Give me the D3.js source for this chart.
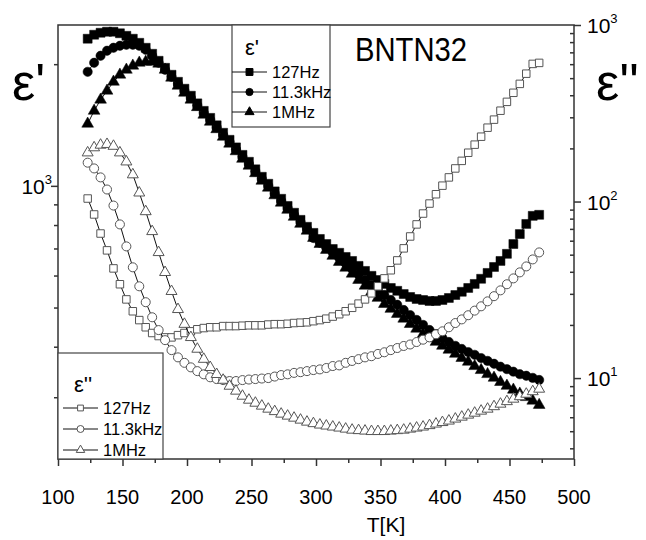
<!DOCTYPE html>
<html><head><meta charset="utf-8">
<script src="https://cdn.jsdelivr.net/npm/d3@7"></script>
<style>body{margin:0;background:#fff}svg{display:block}text{font-family:"Liberation Sans",Arial,sans-serif;fill:#000}</style>
</head><body><svg id="c" width="646" height="540"></svg>
<script>
// ---- data ----
const temperature = [123,128,133,138,143,148,153,158,163,168,173,178,183,188,193,198,203,208,213,218,223,228,233,238,243,248,253,258,263,268,273,278,283,288,293,298,303,308,313,318,323,328,333,338,343,348,353,358,363,368,373,378,383,388,393,398,403,408,413,418,423,428,433,438,443,448,453,458,463,468,473];
// epsilon' (left axis)
const epsReal127Hz = [2312,2365,2392,2406,2406,2385,2351,2312,2259,2196,2122,2039,1959,1883,1809,1739,1671,1600,1533,1473,1412,1353,1300,1245,1193,1147,1099,1053,1012,969,929,892,858,824,792,765,739,718,698,683,667,652,634,616,599,585,572,559,550,540,531,525,522,519,519,522,528,537,547,559,572,589,609,630,652,679,718,760,805,843,848];
const epsReal11kHz = [1915,2016,2098,2159,2196,2221,2234,2234,2221,2171,2098,2016,1937,1861,1788,1719,1651,1582,1516,1457,1396,1337,1285,1231,1180,1134,1086,1041,1000,958,918,882,848,815,783,743,723,702,683,663,643,623,604,585,569,553,537,522,508,493,479,466,453,440,430,420,411,402,395,388,382,375,369,363,357,352,347,342,339,335,331];
const epsReal1MHz = [1424,1533,1633,1719,1809,1883,1937,1982,2016,2028,2028,2005,1937,1851,1768,1699,1633,1565,1499,1440,1380,1322,1271,1217,1166,1121,1074,1029,989,947,908,872,838,805,774,743,718,694,671,648,627,606,585,566,547,528,510,496,482,469,455,443,430,420,411,402,393,384,375,367,358,350,342,335,327,320,313,306,300,294,287];
// epsilon'' (right axis)
const epsImag127Hz = [104,84.5,65.9,52.9,41.8,34.0,27.9,23.9,21.3,19.4,18.0,17.3,17.0,17.0,17.5,18.0,18.4,18.9,19.2,19.4,19.4,19.7,19.7,19.7,19.8,19.9,19.9,19.9,20.1,20.2,20.2,20.3,20.5,20.6,20.7,21.0,21.3,21.7,22.3,23.0,23.9,25.0,26.4,27.9,30.2,33.1,36.7,40.8,46.4,54.3,63.4,74.2,85.5,97.4,110,123,137,154,170,189,210,233,262,291,327,367,413,464,530,602,610];
const epsImag11kHz = [166,154,137,117,94.9,74.2,55.7,42.4,33.1,26.9,22.1,18.7,16.4,14.4,13.1,12.2,11.5,10.95,10.5,10.1,9.87,9.74,9.62,9.62,9.74,9.81,9.87,9.94,10.0,10.2,10.4,10.5,10.7,10.8,10.95,11.1,11.2,11.4,11.7,11.8,12.2,12.5,12.8,13.1,13.3,13.7,14.0,14.4,14.8,15.2,15.5,16.0,16.5,17.0,17.7,18.4,19.4,20.5,21.5,22.7,24.1,25.5,27.2,29.1,31.4,34.0,36.7,39.7,42.9,47.0,51.5];
const epsImag1MHz = [189,202,209,211,206,189,168,142,112,87.8,67.7,51.5,39.7,31.0,24.5,20.2,17.0,14.6,12.8,11.5,10.5,9.74,9.01,8.45,7.91,7.51,7.22,6.95,6.68,6.47,6.26,6.10,5.94,5.79,5.64,5.53,5.43,5.36,5.29,5.22,5.15,5.08,5.05,5.02,4.99,4.99,4.99,5.02,5.05,5.08,5.15,5.22,5.29,5.39,5.50,5.61,5.72,5.87,6.02,6.18,6.34,6.51,6.68,6.90,7.13,7.37,7.61,7.86,8.12,8.39,8.67];
const seriesNames = ["127Hz","11.3kHz","1MHz"];
const xMajorTicks = [100,150,200,250,300,350,400,450,500];
const xMinorTicks = [125,175,225,275,325,375,425,475];
const leftMajorTicks = [1000];
const leftMinorTicks = [300,400,500,600,700,800,900,2000];
const rightMajorTicks = [10,100,1000];
const rightMinorTicks = [4,5,6,7,8,9,20,30,40,50,60,70,80,90,200,300,400,500,600,700,800,900];

// ---- layout ----
const svg = d3.select("#c");
const L=58, R=574, TOP=25, B=459;
const x = d3.scaleLinear().domain([100,500]).range([L,R]);
const yL = d3.scaleLog().domain([211,2500]).range([B,TOP]);
const yR = d3.scaleLog().domain([3.48,1000]).range([B,TOP]);
const axisColor = "#333";

function styleAxis(g){ g.select(".domain").remove(); g.selectAll("line").attr("stroke",axisColor).attr("stroke-width",1.5); g.selectAll("text").remove(); }
svg.append("g").attr("transform",`translate(0,${B})`).call(d3.axisBottom(x).tickValues(xMajorTicks).tickSize(7)).call(styleAxis);
svg.append("g").attr("transform",`translate(0,${B})`).call(d3.axisBottom(x).tickValues(xMinorTicks).tickSize(4)).call(styleAxis);
svg.append("g").attr("transform",`translate(${L},0)`).call(d3.axisLeft(yL).tickValues(leftMajorTicks).tickSize(7)).call(styleAxis);
svg.append("g").attr("transform",`translate(${L},0)`).call(d3.axisLeft(yL).tickValues(leftMinorTicks).tickSize(4)).call(styleAxis);
svg.append("g").attr("transform",`translate(${R},0)`).call(d3.axisRight(yR).tickValues(rightMajorTicks).tickSize(7)).call(styleAxis);
svg.append("g").attr("transform",`translate(${R},0)`).call(d3.axisLeft(yR).tickValues(rightMinorTicks).tickSize(4)).call(styleAxis);
svg.append("rect").attr("x",L).attr("y",TOP).attr("width",R-L).attr("height",B-TOP).attr("fill","none").attr("stroke",axisColor).attr("stroke-width",1.5);

// tick labels
const fs=20;
svg.append("g").selectAll("text").data(xMajorTicks).join("text").attr("x",d=>x(d)).attr("y",B+45).attr("text-anchor","middle").attr("font-size",fs).text(d=>d);
function powLabel(g, xPos, yPos, exp, anchorEnd){
  const t = g.append("text").attr("font-size",21).attr("y",yPos+8).attr("x",xPos).attr("text-anchor",anchorEnd?"end":"start");
  t.append("tspan").text("10");
  t.append("tspan").attr("font-size",13).attr("dy",-10).text(exp);
}
leftMajorTicks.forEach(v=>powLabel(svg, L-6, yL(v), Math.round(Math.log10(v)), true));
rightMajorTicks.forEach(v=>powLabel(svg, R+13, yR(v), Math.round(Math.log10(v)), false));
svg.append("text").attr("x",386).attr("y",532).attr("text-anchor","middle").attr("font-size",21).text("T[K]");
svg.append("text").attr("x",12).attr("y",100).attr("font-size",52).text("ε'");
svg.append("text").attr("x",596).attr("y",100).attr("font-size",52).text("ε''");
svg.append("text").attr("x",355).attr("y",61).attr("font-size",34).attr("textLength",112).attr("lengthAdjust","spacingAndGlyphs").text("BNTN32");

// series
const sym = {sq:d3.symbolSquare, ci:d3.symbolCircle, tr:d3.symbolTriangle};
const realSeries = [
  {v:epsReal127Hz, s:"sq", size:80},
  {v:epsReal11kHz, s:"ci", size:68},
  {v:epsReal1MHz, s:"tr", size:60}];
const imagSeries = [
  {v:epsImag127Hz, s:"sq", size:56},
  {v:epsImag11kHz, s:"ci", size:64},
  {v:epsImag1MHz, s:"tr", size:52}];
function drawSeries(ser, y, filled){
  const pts = temperature.map((t,i)=>[x(t), y(ser.v[i])]);
  svg.append("path").attr("d",d3.line()(pts)).attr("fill","none").attr("stroke","#111").attr("stroke-width",1);
  svg.append("g").selectAll("path").data(pts).join("path")
    .attr("transform",d=>`translate(${d[0]},${d[1]})`)
    .attr("d",d3.symbol().type(sym[ser.s]).size(ser.size))
    .attr("fill",filled?"#000":"#fff").attr("stroke",filled?"#000":"#555").attr("stroke-width",filled?0.5:1);
}
realSeries.forEach(s=>drawSeries(s,yL,true));
imagSeries.forEach(s=>drawSeries(s,yR,false));

// legends
function legend(x0,y0,w,h,title,titleSize,rows,filled,ser){
  const g=svg.append("g");
  g.append("rect").attr("x",x0).attr("y",y0).attr("width",w).attr("height",h).attr("fill","#fff").attr("stroke","#444").attr("stroke-width",1.2);
  g.append("text").attr("x",title[0]).attr("y",title[1]).attr("font-size",titleSize).text(title[2]);
  rows.forEach((r,i)=>{
    g.append("line").attr("x1",r.x1).attr("x2",r.x2).attr("y1",r.y).attr("y2",r.y).attr("stroke","#111").attr("stroke-width",1);
    g.append("path").attr("transform",`translate(${(r.x1+r.x2)/2},${r.y})`).attr("d",d3.symbol().type(sym[ser[i].s]).size(ser[i].size*0.6))
      .attr("fill",filled?"#000":"#fff").attr("stroke",filled?"#000":"#555").attr("stroke-width",1);
    g.append("text").attr("x",r.x2+5).attr("y",r.y+6).attr("font-size",16.5).text(seriesNames[i]);
  });
}
legend(232,TOP,98,102,[245,55,"ε'"],22,[{x1:232,x2:267,y:72},{x1:232,x2:267,y:92},{x1:232,x2:267,y:112}],true,realSeries);
legend(L,353,105,106,[74,392,"ε''"],22,[{x1:63,x2:98,y:408},{x1:63,x2:98,y:429},{x1:63,x2:98,y:450}],false,imagSeries);
</script></body></html>
